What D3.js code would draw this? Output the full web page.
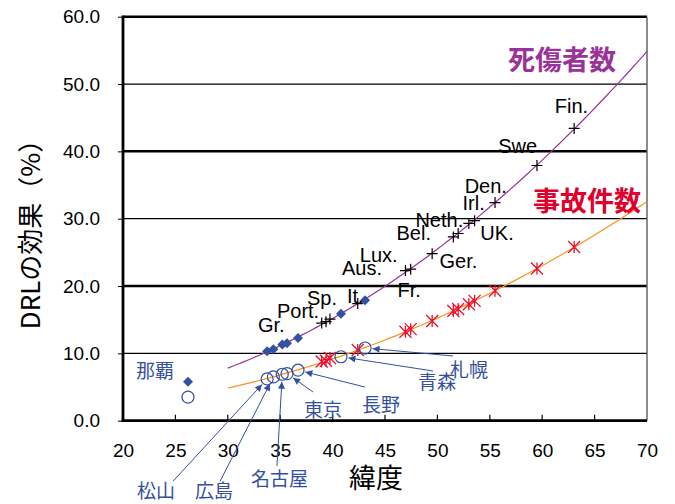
<!DOCTYPE html>
<html>
<head>
<meta charset="utf-8">
<script src="https://cdn.jsdelivr.net/npm/d3@7"></script>
<style>
  body { margin: 0; background: #fff; }
  text { font-family: "Liberation Sans", Arial, sans-serif; }
  .jp { font-family: "Noto Sans CJK JP", sans-serif; }
</style>
</head>
<body>
<div id="chart"></div>
<script>
// Europe: latitude, casualty-accident effect, all-accident effect (%)
var latEU = [38.96, 39.37, 39.75, 42.4, 46.95, 47.45, 49.5, 51.52, 51.98, 53.0, 53.55, 55.5, 59.5, 63.05];
var casualtyEU = [14.5, 14.7, 15.1, 17.4, 22.3, 22.5, 24.8, 27.3, 27.8, 29.3, 29.7, 32.4, 37.9, 43.4];
var accidentEU = [8.8, 8.9, 9.3, 10.5, 13.2, 13.6, 14.8, 16.3, 16.6, 17.3, 17.8, 19.3, 22.6, 25.8];

// Japan: cities
var cityJP = ["那覇", "松山", "広島", "名古屋", "東京", "長野", "青森", "札幌"];
var latJP = [26.2, 33.75, 34.35, 35.2, 35.65, 36.7, 40.8, 43.1];
var casualtyJP = [5.8, 10.3, 10.6, 11.3, 11.5, 12.3, 15.9, 17.9];
var accidentJP = [3.5, 6.2, 6.5, 6.9, 7.0, 7.5, 9.5, 10.8];

// country labels, placed in data units (text start, baseline)
var euNames = ["Gr.", "Port.", "Sp.", "It.", "Aus.", "Lux.", "Fr.", "Bel.", "Neth.", "Ger.", "UK.", "Irl.", "Den.", "Swe", "Fin."];
var euLabelX = [32.88, 34.69, 37.56, 41.37, 40.9, 42.6, 46.2, 46.1, 47.9, 50.2, 54.1, 52.4, 52.6, 55.8, 61.2];
var euLabelY = [13.17, 15.25, 17.18, 17.48, 21.64, 23.57, 18.3, 26.9, 28.8, 22.7, 26.9, 31.3, 33.8, 39.7, 45.7];

// city labels and arrow tails (data units); index 0 (那覇) has no arrow
var jpLabelX = [21.24, 21.34, 26.87, 32.21, 37.27, 42.8, 48.15, 51.2];
var jpLabelY = [6.3, -11.55, -11.55, -9.65, 0.6, 1.35, 4.65, 6.55];
var arrowTailX = [null, 24.77, 29.26, 34.69, 38.13, 43.09, 49.58, 51.49];
var arrowTailY = [null, -9.0, -9.0, -6.73, 4.26, 5.0, 7.38, 9.61];

var xTicks = [20, 25, 30, 35, 40, 45, 50, 55, 60, 65, 70];
var yTicks = [0, 10, 20, 30, 40, 50, 60];

var width = 675, height = 504;
var plotLeft = 123, plotRight = 647, plotTop = 16.7, plotBottom = 420.7;

var svg = d3.select('#chart').append('svg')
  .attr('width', width)
  .attr('height', height);

var x = d3.scaleLinear().domain([20, 70]).range([plotLeft, plotRight]);
var y = d3.scaleLinear().domain([0, 60]).range([plotBottom, plotTop]);

var blue = '#34509f', purple = '#993399', orange = '#f7931e', red = '#e8112d';

// quadratic least squares fit
function fitQuad(xs, ys) {
  var s = [0, 0, 0, 0, 0], t = [0, 0, 0];
  xs.forEach(function(xv, i) {
    var p = 1;
    for (var k = 0; k < 5; k++) { s[k] += p; if (k < 3) t[k] += p * ys[i]; p *= xv; }
  });
  var m = [[s[0], s[1], s[2], t[0]], [s[1], s[2], s[3], t[1]], [s[2], s[3], s[4], t[2]]];
  for (var i = 0; i < 3; i++) {
    for (var j = i + 1; j < 3; j++) {
      var f = m[j][i] / m[i][i];
      for (var k = i; k < 4; k++) m[j][k] -= f * m[i][k];
    }
  }
  var c = [0, 0, 0];
  for (var i = 2; i >= 0; i--) {
    var v = m[i][3];
    for (var k = i + 1; k < 3; k++) v -= m[i][k] * c[k];
    c[i] = v / m[i][i];
  }
  return function(xv) { return c[0] + c[1] * xv + c[2] * xv * xv; };
}

// gridlines
svg.append('g').selectAll('line')
  .data(yTicks.slice(1))
  .enter().append('line')
  .attr('x1', plotLeft).attr('x2', plotRight)
  .attr('y1', function(d) { return y(d); })
  .attr('y2', function(d) { return y(d); })
  .attr('stroke', '#000')
  .attr('stroke-width', function(d) { return (d / 10) % 2 === 0 ? 2.5 : 1.3; });

// right frame
svg.append('line')
  .attr('x1', plotRight).attr('x2', plotRight).attr('y1', plotTop).attr('y2', plotBottom)
  .attr('stroke', '#666').attr('stroke-width', 1.5);

// axes
var xAxis = d3.axisBottom(x).tickValues(xTicks).tickSize(0).tickPadding(23);
var gx = svg.append('g')
  .attr('transform', 'translate(0,' + plotBottom + ')')
  .call(xAxis);
gx.select('.domain').remove();
gx.selectAll('text').attr('font-size', 19).attr('fill', '#000')
  .attr('font-family', '"Liberation Sans", Arial, sans-serif');
svg.append('g').selectAll('line')
  .data(xTicks.slice(1, -1))
  .enter().append('line')
  .attr('x1', function(d) { return x(d); })
  .attr('x2', function(d) { return x(d); })
  .attr('y1', plotBottom).attr('y2', plotBottom - 6)
  .attr('stroke', '#000').attr('stroke-width', 1.2);

var yAxis = d3.axisLeft(y).tickValues(yTicks).tickFormat(d3.format('.1f')).tickSize(5).tickPadding(18);
var gy = svg.append('g')
  .attr('transform', 'translate(' + plotLeft + ',0)')
  .call(yAxis);
gy.select('.domain').remove();
gy.selectAll('text').attr('font-size', 19).attr('fill', '#000')
  .attr('font-family', '"Liberation Sans", Arial, sans-serif');

svg.append('line')
  .attr('x1', plotLeft).attr('x2', plotLeft).attr('y1', plotTop - 1.2).attr('y2', plotBottom + 1.2)
  .attr('stroke', '#000').attr('stroke-width', 2.8);
svg.append('line')
  .attr('x1', plotLeft - 1.4).attr('x2', plotRight).attr('y1', plotBottom).attr('y2', plotBottom)
  .attr('stroke', '#000').attr('stroke-width', 2.8);

// axis titles
svg.append('text')
  .attr('class', 'jp')
  .attr('transform', 'translate(40,228) rotate(-90)')
  .attr('text-anchor', 'middle')
  .attr('font-size', 26)
  .text('DRLの効果（%）');
svg.append('text')
  .attr('class', 'jp')
  .attr('x', 376).attr('y', 488)
  .attr('text-anchor', 'middle')
  .attr('font-size', 27)
  .text('緯度');

// trend curves
var casFit = fitQuad(latEU.concat(latJP.slice(1)), casualtyEU.concat(casualtyJP.slice(1)));
var accFit = fitQuad(latEU.concat(latJP.slice(1)), accidentEU.concat(accidentJP.slice(1)));
var xs = d3.range(30, 70.01, 0.5);
var line = d3.line().x(function(d) { return x(d[0]); }).y(function(d) { return y(d[1]); });
svg.append('path')
  .attr('d', line(xs.map(function(v) { return [v, casFit(v)]; })))
  .attr('fill', 'none').attr('stroke', purple).attr('stroke-width', 1.2);
svg.append('path')
  .attr('d', line(xs.map(function(v) { return [v, accFit(v)]; })))
  .attr('fill', 'none').attr('stroke', orange).attr('stroke-width', 1.2);

// Europe casualty: plus marks
svg.append('g').selectAll('path')
  .data(latEU.map(function(v, i) { return [v, casualtyEU[i]]; }))
  .enter().append('path')
  .attr('d', function(d) {
    var cx = x(d[0]), cy = y(d[1]), r = 5.5;
    return 'M' + (cx - r) + ',' + cy + 'H' + (cx + r) + 'M' + cx + ',' + (cy - r) + 'V' + (cy + r);
  })
  .attr('stroke', '#000').attr('stroke-width', 1.2);

// Europe accidents: asterisks
svg.append('g').selectAll('path')
  .data(latEU.map(function(v, i) { return [v, accidentEU[i]]; }))
  .enter().append('path')
  .attr('d', function(d) {
    var cx = x(d[0]), cy = y(d[1]), r = 6;
    return 'M' + (cx - r) + ',' + (cy - r) + 'L' + (cx + r) + ',' + (cy + r) +
      'M' + (cx - r) + ',' + (cy + r) + 'L' + (cx + r) + ',' + (cy - r) +
      'M' + cx + ',' + (cy - r) + 'V' + (cy + r);
  })
  .attr('stroke', red).attr('stroke-width', 1.3);

// Japan casualty: diamonds
svg.append('g').selectAll('path')
  .data(latJP.map(function(v, i) { return [v, casualtyJP[i]]; }))
  .enter().append('path')
  .attr('d', function(d) {
    var cx = x(d[0]), cy = y(d[1]), r = 5;
    return 'M' + cx + ',' + (cy - r) + 'L' + (cx + r) + ',' + cy + 'L' + cx + ',' + (cy + r) + 'L' + (cx - r) + ',' + cy + 'Z';
  })
  .attr('fill', blue);

// Japan accidents: open circles
svg.append('g').selectAll('circle')
  .data(latJP.map(function(v, i) { return [v, accidentJP[i]]; }))
  .enter().append('circle')
  .attr('cx', function(d) { return x(d[0]); })
  .attr('cy', function(d) { return y(d[1]); })
  .attr('r', 6)
  .attr('fill', 'none').attr('stroke', blue).attr('stroke-width', 1.2);

// arrows from city labels
svg.append('defs').append('marker')
  .attr('id', 'arrow')
  .attr('viewBox', '0 0 10 10')
  .attr('refX', 10).attr('refY', 5)
  .attr('markerWidth', 9).attr('markerHeight', 7)
  .attr('markerUnits', 'userSpaceOnUse')
  .attr('orient', 'auto')
  .append('path').attr('d', 'M0,0L10,5L0,10Z').attr('fill', blue);

svg.append('g').selectAll('line')
  .data(d3.range(1, cityJP.length))
  .enter().append('line')
  .each(function(i) {
    var tx = x(arrowTailX[i]), ty = y(arrowTailY[i]);
    var cx = x(latJP[i]), cy = y(accidentJP[i]);
    var dx = tx - cx, dy = ty - cy, len = Math.sqrt(dx * dx + dy * dy);
    d3.select(this)
      .attr('x1', tx).attr('y1', ty)
      .attr('x2', cx + dx / len * 7.5).attr('y2', cy + dy / len * 7.5);
  })
  .attr('stroke', blue).attr('stroke-width', 1)
  .attr('marker-end', 'url(#arrow)');

// city labels
svg.append('g').selectAll('text')
  .data(cityJP)
  .enter().append('text')
  .attr('class', 'jp')
  .attr('x', function(d, i) { return x(jpLabelX[i]); })
  .attr('y', function(d, i) { return y(jpLabelY[i]); })
  .attr('font-size', 19)
  .attr('fill', blue)
  .text(function(d) { return d; });

// country labels
svg.append('g').selectAll('text')
  .data(euNames)
  .enter().append('text')
  .attr('x', function(d, i) { return x(euLabelX[i]); })
  .attr('y', function(d, i) { return y(euLabelY[i]); })
  .attr('font-size', 20)
  .attr('fill', '#000')
  .text(function(d) { return d; });

// series titles
svg.append('text')
  .attr('class', 'jp')
  .attr('x', 508).attr('y', 70)
  .attr('font-size', 27).attr('font-weight', 'bold')
  .attr('fill', purple)
  .text('死傷者数');
svg.append('text')
  .attr('class', 'jp')
  .attr('x', 533).attr('y', 211)
  .attr('font-size', 27).attr('font-weight', 'bold')
  .attr('fill', '#e0002b')
  .text('事故件数');
</script>
</body>
</html>
